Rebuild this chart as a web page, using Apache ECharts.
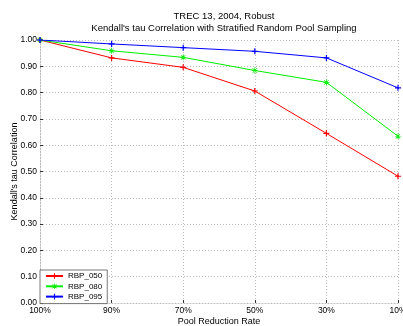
<!DOCTYPE html>
<html><head><meta charset="utf-8">
<script src="https://cdn.jsdelivr.net/npm/echarts@6/dist/echarts.min.js"></script>
<style>html,body{margin:0;padding:0;background:#fff}#c{width:403px;height:326px}</style>
</head><body><div id="c"></div>
<script>
const categories = ['100%', '90%', '70%', '50%', '30%', '10%'];
const rbp050 = [1.00, 0.932, 0.896, 0.806, 0.645, 0.482];
const rbp080 = [1.00, 0.959, 0.934, 0.884, 0.839, 0.634];
const rbp095 = [1.00, 0.985, 0.971, 0.957, 0.932, 0.818];
const seriesNames = ['RBP_050', 'RBP_080', 'RBP_095'];

const FONT = 'Liberation Sans';
const plus = 'path://M4,0h2v4h4v2h-4v4h-2v-4h-4v-2h4z';
const star = 'path://M4.4,0h1.2v10h-1.2z M0,4.4h10v1.2h-10z M1,1.8l0.8,-0.8l7.2,7.2l-0.8,0.8z M9,1.8l-0.8,-0.8l-7.2,7.2l0.8,0.8z';

function mk(name, data, color, sym) {
  return {
    name: name, type: 'line', data: data,
    symbol: sym, symbolSize: 6, showSymbol: true,
    lineStyle: { color: color, width: 1 },
    itemStyle: { color: color },
    animation: false
  };
}

const chart = echarts.init(document.getElementById('c'), null, { renderer: 'canvas' });
chart.setOption({
  animation: false,
  backgroundColor: '#fff',
  textStyle: { fontFamily: FONT },
  title: {
    text: 'TREC 13, 2004, Robust\nKendall\'s tau Correlation with Stratified Random Pool Sampling',
    left: 219, top: 5, textAlign: 'center',
    textStyle: { fontFamily: FONT, fontSize: 9.5, fontWeight: 'normal', color: '#000', lineHeight: 12 }
  },
  grid: { left: 40, right: 5, top: 40, bottom: 23, containLabel: false, outerBoundsMode: 'none' },
  legend: {
    orient: 'vertical', left: 40, top: 270,
    data: seriesNames,
    itemWidth: 17, itemHeight: 7, itemGap: 2.3,
    backgroundColor: '#fff', borderColor: '#555', borderWidth: 0.8,
    padding: [2, 5, 3, 5],
    textStyle: { fontFamily: FONT, fontSize: 8, color: '#000' }
  },
  xAxis: {
    type: 'category', data: categories, boundaryGap: false,
    name: 'Pool Reduction Rate', nameLocation: 'middle', nameGap: 14, nameMoveOverlap: false,
    nameTextStyle: { fontFamily: FONT, fontSize: 9, color: '#000' },
    axisLine: { show: true, lineStyle: { color: '#bbb', width: 1, type: [1, 2] } },
    axisTick: { show: true, inside: true, length: 3, lineStyle: { color: '#333' } },
    axisLabel: { fontFamily: FONT, fontSize: 8.5, color: '#000', margin: 3 },
    splitLine: { show: true, lineStyle: { color: '#bbb', width: 1, type: [1, 2] } }
  },
  yAxis: {
    type: 'value', min: 0, max: 1, interval: 0.1,
    name: 'Kendall\'s tau Correlation', nameLocation: 'middle', nameGap: 21, nameMoveOverlap: false,
    nameTextStyle: { fontFamily: FONT, fontSize: 9, color: '#000' },
    axisLine: { show: true, lineStyle: { color: '#bbb', width: 1, type: [1, 2] } },
    axisTick: { show: true, inside: true, length: 3, lineStyle: { color: '#333' } },
    axisLabel: { fontFamily: FONT, fontSize: 8.5, color: '#000', margin: 3,
      formatter: function (v) { return v.toFixed(2); } },
    splitLine: { show: true, lineStyle: { color: '#bbb', width: 1, type: [1, 2] } }
  },
  series: [
    mk(seriesNames[0], rbp050, '#ff0000', plus),
    mk(seriesNames[1], rbp080, '#00ee00', star),
    mk(seriesNames[2], rbp095, '#0000ff', plus)
  ]
});
</script></body></html>
